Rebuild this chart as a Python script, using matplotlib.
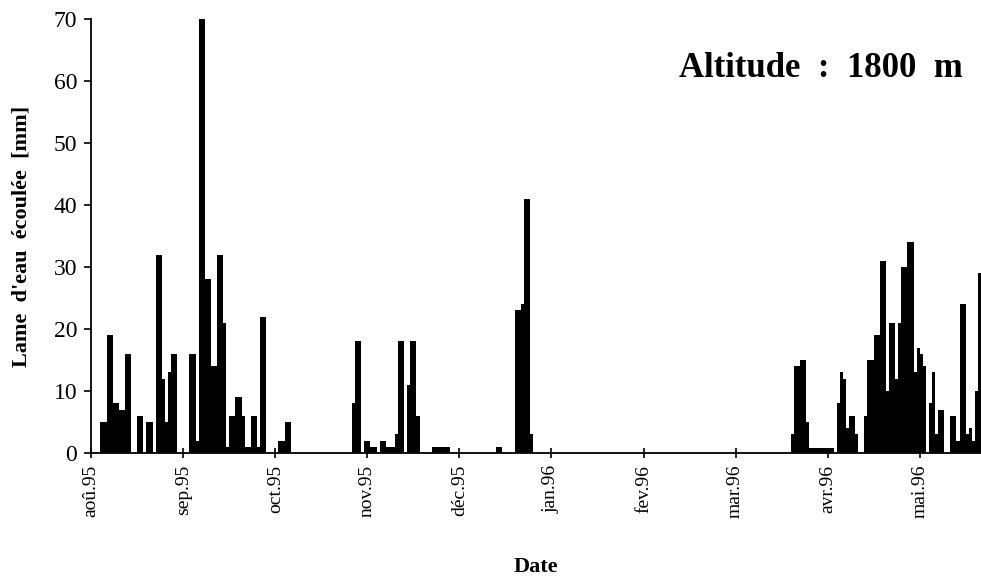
import numpy as np
import matplotlib
matplotlib.use("Agg")
import matplotlib.pyplot as plt

plt.rcParams['font.family'] = ['Liberation Serif', 'DejaVu Serif']

# jours comptés depuis le 1er août 1995, lame d'eau écoulée [mm]
jours_aout = [3, 4, 5, 6, 7, 8, 9, 10, 11, 12, 15, 16, 18, 19, 21, 22, 23, 24, 25, 26, 27]
lame_aout = [5, 5, 19, 19, 8, 8, 7, 7, 16, 16, 6, 6, 5, 5, 32, 32, 12, 5, 13, 16, 16]

jours_sep = [32, 33, 34, 35, 36, 37, 38, 39, 40, 41, 42, 43, 44, 45, 46, 47, 48, 49,
             50, 51, 52, 53, 54, 55, 56, 61, 62, 63, 64]
lame_sep = [16, 16, 2, 70, 70, 28, 28, 14, 14, 32, 32, 21, 1, 6, 6, 9, 9, 6,
            1, 1, 6, 6, 1, 22, 22, 2, 2, 5, 5]

jours_nov = [85, 86, 87, 89, 90, 91, 92, 94, 95, 96, 97, 98, 99, 100, 101, 103, 104,
             105, 106, 111, 112, 113, 114, 115, 116]
lame_nov = [8, 18, 18, 2, 2, 1, 1, 2, 2, 1, 1, 1, 3, 18, 18, 11, 18,
            18, 6, 1, 1, 1, 1, 1, 1]

jours_dec = [132, 133, 138, 139, 140, 141, 142, 143]
lame_dec = [1, 1, 23, 23, 24, 41, 41, 3]

jours_avr = [228, 229, 230, 231, 232, 233, 234, 235, 236, 237, 238, 239, 240, 241,
             243, 244, 245, 246, 247, 248, 249]
lame_avr = [3, 14, 14, 15, 15, 5, 0.8, 0.8, 0.8, 0.8, 0.8, 0.8, 0.8, 0.8,
            8, 13, 12, 4, 6, 6, 3]

jours_mai = [252, 253, 254, 255, 256, 257, 258, 259, 260, 261, 262, 263, 264, 265,
             266, 267, 268, 269, 270, 271, 273, 274, 275, 276, 277, 280, 281, 282,
             283, 284, 285, 286, 287, 288, 289]
lame_mai = [6, 15, 15, 19, 19, 31, 31, 10, 21, 21, 12, 21, 30, 30,
            34, 34, 13, 17, 16, 14, 8, 13, 3, 7, 7, 6, 6, 2,
            24, 24, 3, 4, 2, 10, 29]

mois = ['aoû.95', 'sep.95', 'oct.95', 'nov.95', 'déc.95',
        'jan.96', 'fev.96', 'mar.96', 'avr.96', 'mai.96']

jours = jours_aout + jours_sep + jours_nov + jours_dec + jours_avr + jours_mai
lame = lame_aout + lame_sep + lame_nov + lame_dec + lame_avr + lame_mai

fig = plt.figure(figsize=(9.81, 5.81), dpi=100)
ax = fig.add_axes([0.093, 0.2203, 0.907, 0.747])

ax.bar(jours, lame, width=1.0, align='edge', color='black', edgecolor='none')

ax.set_xlim(0, 290)
ax.set_ylim(0, 70)

# une graduation tous les 30 jours, comme sur l'original
ax.set_xticks(np.arange(len(mois)) * 30)
ax.set_xticklabels(mois, rotation=90, fontsize=14)
ax.set_yticks(np.arange(0, 71, 10))
ax.set_yticklabels([str(v) for v in range(0, 71, 10)], fontsize=17)
ax.tick_params(axis='y', direction='out', length=5, width=1.2, pad=5)
ax.tick_params(axis='x', direction='inout', length=7, width=1.2, pad=5)

for s in ['top', 'right']:
    ax.spines[s].set_visible(False)
for s in ['left', 'bottom']:
    ax.spines[s].set_linewidth(1.3)

ax.set_ylabel("Lame  d'eau  écoulée  [mm]", fontsize=16, fontweight='bold', labelpad=16)
ax.set_xlabel("Date", fontsize=16, fontweight='bold', labelpad=28)

ax.text(0.98, 0.885, "Altitude  :  1800  m", transform=ax.transAxes,
        ha='right', va='center', fontsize=25, fontweight='bold')

fig.savefig("out.png", dpi=100)
